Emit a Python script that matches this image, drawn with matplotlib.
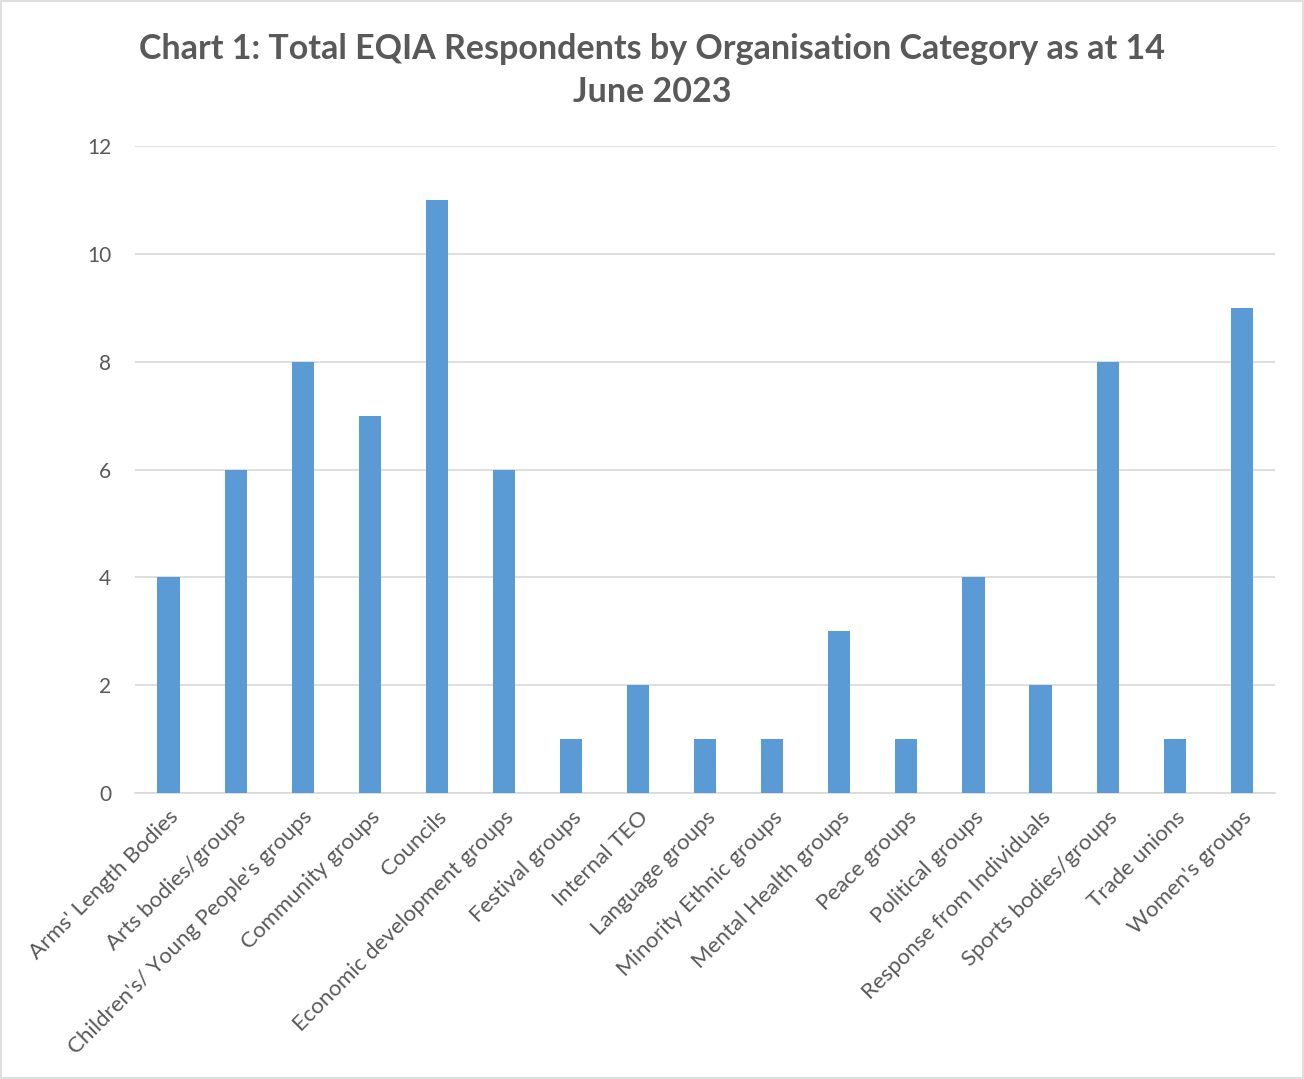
import numpy as np
import matplotlib.pyplot as plt
from matplotlib.patches import Rectangle

# Data
categories = ["Arms' Length Bodies", "Arts bodies/groups", "Children's/ Young People's groups",
              "Community groups", "Councils", "Economic development groups", "Festival groups",
              "Internal TEO", "Language groups", "Minority Ethnic groups", "Mental Health groups",
              "Peace groups", "Political groups", "Response from Individuals", "Sports bodies/groups",
              "Trade unions", "Women's groups"]
counts = [4, 6, 8, 7, 11, 6, 1, 2, 1, 1, 3, 1, 4, 2, 8, 1, 9]
yticks = [0, 2, 4, 6, 8, 10, 12]

plt.rcParams['font.family'] = ['Lato', 'DejaVu Sans']
text_col = '#595959'

fig = plt.figure(figsize=(13.04, 10.79), dpi=100)
ax = fig.add_axes([0.1035, 0.265, 0.8745, 0.5997])

x = np.arange(len(categories))
ax.bar(x, counts, width=0.33, color='#5B9BD5', zorder=3)

ax.set_xlim(-0.5, len(categories) - 0.5)
ax.set_ylim(0, 12)
ax.set_yticks(yticks)
ax.set_yticklabels([str(t) for t in yticks], fontsize=15, color=text_col)
ax.set_xticks(x)
ax.set_xticklabels(categories, rotation=45, ha='right', rotation_mode='anchor',
                   fontsize=16, color=text_col)
ax.tick_params(axis='y', length=0, pad=17)
ax.tick_params(axis='x', length=0, pad=10)
ax.grid(axis='y', color='#D9D9D9', linewidth=1.2, zorder=0)
for s in ['top', 'right', 'left']:
    ax.spines[s].set_visible(False)
ax.spines['bottom'].set_color('#D9D9D9')
ax.spines['bottom'].set_linewidth(1.2)

fig.text(0.5, 0.955, "Chart 1: Total EQIA Respondents by Organisation Category as at 14",
         ha='center', va='center', fontsize=24.5, fontweight='bold', color=text_col)
fig.text(0.5, 0.915, "June 2023", ha='center', va='center', fontsize=24.5,
         fontweight='bold', color=text_col)

fig.patches.append(Rectangle((0.001, 0.001), 0.998, 0.998, transform=fig.transFigure,
                             fill=False, edgecolor='#D9D9D9', linewidth=1.2))

fig.savefig('out.png', dpi=100)
